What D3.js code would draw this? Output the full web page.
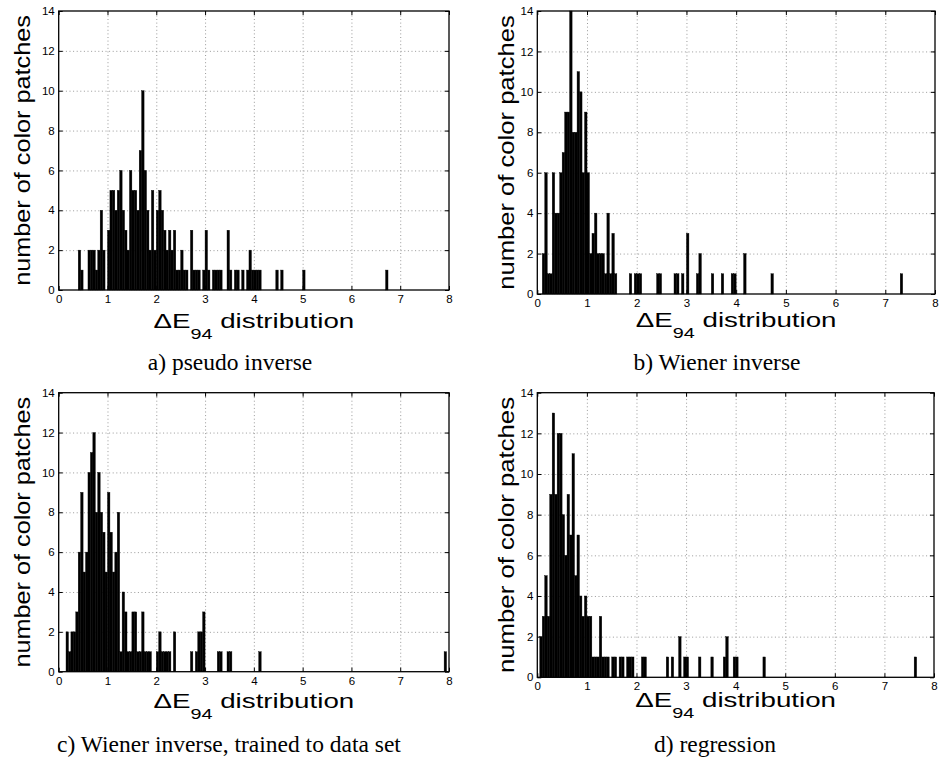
<!DOCTYPE html>
<html>
<head>
<meta charset="utf-8">
<script src="https://cdn.jsdelivr.net/npm/d3@7"></script>
<style>
	body { margin: 0; background: #fff; }
	svg { display: block; }
	.tick text { font-family: "Liberation Sans", Arial, sans-serif; font-size: 11.5px; fill: #000; }
	.grid line { stroke: #808080; stroke-width: 0.8; stroke-dasharray: 1,2.6; }
	.grid path, .ticks path { display: none; }
	.ticks line { stroke: #000; stroke-width: 1; }
</style>
</head>
<body>
<svg id="chart" width="940" height="763"></svg>
<script>
// Four histograms of Delta E94, bin width 0.05.
// Each panel: left edge of every non-empty bin, and its count.
var binWidth = 0.05;
var xTicks = [0, 1, 2, 3, 4, 5, 6, 7, 8];
var yTicks = [0, 2, 4, 6, 8, 10, 12, 14];

// a) pseudo inverse
var edgesA = [0.40,0.45,0.60,0.65,0.70,0.75,0.80,0.85,0.90,
	1.00,1.05,1.10,1.15,1.20,1.25,1.30,1.35,1.40,1.45,1.50,1.55,1.60,1.65,1.70,1.75,1.80,1.85,1.90,1.95,
	2.00,2.05,2.10,2.15,2.20,2.25,2.30,2.35,2.40,2.45,2.50,2.55,2.60,2.70,2.75,2.80,2.85,2.95,
	3.00,3.05,3.15,3.20,3.25,3.30,3.45,3.50,3.60,3.65,3.75,3.85,3.90,3.95,
	4.00,4.05,4.10,4.45,4.55,5.00,6.70];
var countsA = [2,1,2,2,2,1,2,4,2,
	3,5,5,4,5,6,4,3,2,6,5,5,4,7,10,6,4,2,5,2,
	4,5,4,3,2,3,2,3,1,1,2,1,1,3,1,1,1,1,
	3,1,1,1,1,1,3,1,1,1,1,1,2,1,
	1,1,1,1,1,1,1];

// b) Wiener inverse
var edgesB = [0.10,0.15,0.20,0.25,0.30,0.35,0.40,0.45,0.50,0.55,0.60,0.65,0.70,0.75,0.80,0.85,0.90,0.95,
	1.00,1.05,1.10,1.15,1.20,1.25,1.30,1.35,1.40,1.45,1.50,1.55,
	1.85,1.95,2.00,2.05,2.40,2.45,2.75,2.80,2.90,
	3.00,3.20,3.25,3.50,3.70,3.90,3.95,4.15,4.70,7.30];
var countsB = [2,6,1,1,6,4,4,6,7,9,9,14,8,8,11,10,6,9,
	6,2,3,4,2,2,2,1,4,1,3,1,
	1,1,1,1,1,1,1,1,1,
	3,1,2,1,1,1,1,2,1,1];

// c) Wiener inverse, trained to data set
var edgesC = [0.15,0.20,0.25,0.30,0.35,0.40,0.45,0.50,0.55,0.60,0.65,0.70,0.75,0.80,0.85,0.90,0.95,
	1.00,1.05,1.10,1.15,1.20,1.25,1.30,1.35,1.40,1.45,1.50,1.55,1.60,1.65,1.70,1.75,1.80,1.85,
	2.00,2.05,2.10,2.15,2.20,2.25,2.35,2.70,2.80,2.85,2.90,2.95,
	3.25,3.30,3.45,3.50,4.10,7.90];
var countsC = [2,1,2,2,3,6,9,5,6,10,11,12,8,10,8,7,5,
	9,7,5,6,8,1,4,3,1,1,3,3,1,1,3,1,1,1,
	1,2,1,1,1,1,2,1,1,2,2,3,
	1,1,1,1,1,1];

// d) regression
var edgesD = [0.05,0.10,0.15,0.20,0.25,0.30,0.35,0.40,0.45,0.50,0.55,0.60,0.65,0.70,0.75,0.80,0.85,0.90,0.95,
	1.00,1.05,1.10,1.15,1.20,1.25,1.30,1.35,1.40,1.50,1.55,1.65,1.70,1.80,1.85,1.90,
	2.10,2.15,2.60,2.70,2.85,2.95,3.00,3.25,3.50,3.75,3.80,3.95,4.00,4.55,7.60];
var countsD = [2,3,5,3,9,13,9,12,12,8,6,9,7,11,5,7,4,3,4,
	3,3,1,1,1,3,1,1,1,1,1,1,1,1,1,1,
	1,1,1,1,2,1,1,1,1,1,2,1,1,1,1];

var captions = ["a) pseudo inverse", "b) Wiener inverse",
	"c) Wiener inverse, trained to data set", "d) regression"];
var yLabel = "number of color patches";

// where each axes box sits on the page
var frames = [
	{left: 58.7,  top: 11,    right: 449, bottom: 290,   ylabX: 30,  xlabY: 328, capX: 230, capY: 370},
	{left: 537.3, top: 11,    right: 935, bottom: 294,   ylabX: 514, xlabY: 327, capX: 717, capY: 370},
	{left: 58.7,  top: 392.7, right: 449, bottom: 671.7, ylabX: 30,  xlabY: 708, capX: 229, capY: 752},
	{left: 537.3, top: 392.7, right: 934, bottom: 677.3, ylabX: 514, xlabY: 707, capX: 715, capY: 752}
];

var series = [
	{edges: edgesA, counts: countsA},
	{edges: edgesB, counts: countsB},
	{edges: edgesC, counts: countsC},
	{edges: edgesD, counts: countsD}
];

var svg = d3.select("#chart");

function drawPanel(i)
{
	var f = frames[i];
	var w = f.right - f.left, h = f.bottom - f.top;
	var bins = series[i].edges.map(function (e, k) { return {x0: e, n: series[i].counts[k]}; });

	var x = d3.scaleLinear().domain([0, 8]).range([0, w]);
	var y = d3.scaleLinear().domain([0, 14]).range([h, 0]);

	var g = svg.append("g").attr("transform", "translate(" + f.left + "," + f.top + ")");

	// dotted grid, under the bars
	g.append("g").attr("class", "grid")
		.attr("transform", "translate(0," + h + ")")
		.call(d3.axisBottom(x).tickValues(xTicks.slice(1, -1)).tickSize(-h).tickFormat(""));
	g.append("g").attr("class", "grid")
		.call(d3.axisLeft(y).tickValues(yTicks.slice(1, -1)).tickSize(-w).tickFormat(""));

	// bars
	g.selectAll("rect.bar").data(bins)
		.enter().append("rect")
		.attr("class", "bar")
		.attr("x", function (d) { return x(d.x0); })
		.attr("width", function (d) { return x(d.x0 + binWidth) - x(d.x0); })
		.attr("y", function (d) { return y(d.n); })
		.attr("height", function (d) { return y(0) - y(d.n); })
		.attr("fill", "#000")
		.attr("stroke", "#000")
		.attr("stroke-width", 0.4);

	// axes with inward ticks
	g.append("g").attr("class", "ticks")
		.attr("transform", "translate(0," + h + ")")
		.call(d3.axisBottom(x).tickValues(xTicks).tickSize(-4).tickPadding(5).tickFormat(d3.format("d")));
	g.append("g").attr("class", "ticks")
		.call(d3.axisLeft(y).tickValues(yTicks).tickSize(-4).tickPadding(4).tickFormat(d3.format("d")));
	g.append("g").attr("class", "ticks")
		.call(d3.axisTop(x).tickValues(xTicks).tickSize(-4).tickFormat(""));
	g.append("g").attr("class", "ticks")
		.attr("transform", "translate(" + w + ",0)")
		.call(d3.axisRight(y).tickValues(yTicks).tickSize(-4).tickFormat(""));

	// box
	g.append("rect")
		.attr("width", w).attr("height", h)
		.attr("fill", "none").attr("stroke", "#000").attr("stroke-width", 1.3);

	// y label
	svg.append("text")
		.attr("transform", "translate(" + f.ylabX + "," + (f.top + h / 2) + ") rotate(-90)")
		.attr("text-anchor", "middle")
		.attr("textLength", h * 0.97)
		.attr("lengthAdjust", "spacingAndGlyphs")
		.style("font-family", "'Liberation Sans', Arial, sans-serif")
		.style("font-size", "22px")
		.text(yLabel);

	// x label: Delta E with subscript 94
	var xl = svg.append("g")
		.attr("transform", "translate(" + (f.left + w / 2) + "," + f.xlabY + ") scale(1.32,1)")
		.append("text")
		.attr("text-anchor", "middle")
		.style("font-family", "'Liberation Sans', Arial, sans-serif")
		.style("font-size", "21px");
	xl.append("tspan").text("\u0394E");
	xl.append("tspan").attr("dy", 11).style("font-size", "15px").text("94");
	xl.append("tspan").attr("dy", -11).text(" distribution");

	// caption
	svg.append("text")
		.attr("x", f.capX).attr("y", f.capY)
		.attr("text-anchor", "middle")
		.style("font-family", "'Liberation Serif', 'Times New Roman', serif")
		.style("font-size", "23.5px")
		.text(captions[i]);
}

for (var i = 0; i < frames.length; i++) drawPanel(i);
</script>
</body>
</html>
